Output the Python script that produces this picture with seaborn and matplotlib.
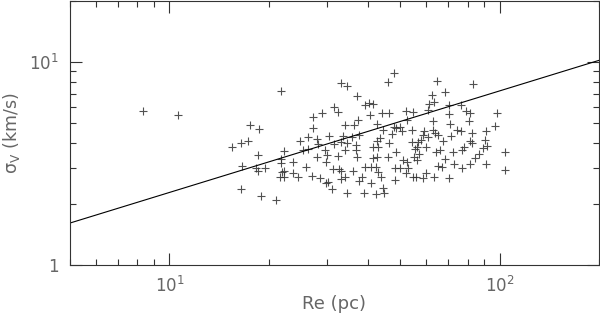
"""Re vs sigma_V scatter on log-log axes, with a power-law line."""

import numpy as np
import pandas as pd
import matplotlib
matplotlib.use("Agg")
import matplotlib.pyplot as plt
from matplotlib.ticker import LogLocator, FuncFormatter, NullFormatter
import seaborn as sns

# Re (pc)
re_pc = [
    8.3, 10.6, 21.8, 33.0, 34.4, 17.6, 18.7, 15.5, 16.5, 17.3,
    18.6, 16.6, 18.3, 19.5, 16.5, 19.0, 21.1, 22.3, 21.8, 23.6,
    21.8, 21.9, 22.3, 23.6, 21.7, 22.3, 24.6, 26.0, 27.1, 28.6,
    29.9, 30.2, 31.0, 27.9, 29.9, 30.1, 31.2, 32.5, 32.7, 33.2,
    33.0, 34.1, 34.4, 24.9, 26.2, 27.9, 28.1, 30.5, 25.4, 26.2,
    29.5, 27.3, 27.3, 29.0, 31.6, 32.4, 34.1, 33.5, 34.6, 34.0,
    48.0, 45.9, 64.7, 83.0, 37.0, 39.0, 40.1, 41.5, 62.4, 68.3,
    61.1, 63.5, 60.7, 70.5, 76.6, 79.3, 81.1, 98.4, 96.6, 80.6,
    70.5, 62.9, 71.0, 74.3, 76.6, 82.6, 91.0, 90.5, 91.4, 89.3,
    103.5, 103.5, 91.0, 81.1, 82.6, 77.9, 76.9, 72.5, 67.6, 71.3,
    65.0, 63.9, 63.0, 59.1, 58.5, 57.8, 60.7, 59.9, 64.3, 65.8,
    68.1, 65.0, 66.8, 73.0, 76.9, 81.1, 84.5, 86.6, 63.5, 70.2,
    59.9, 58.5, 55.8, 54.7, 52.1, 52.9, 52.4, 50.9, 55.0, 56.3,
    57.1, 55.3, 56.3, 54.4, 56.7, 54.4, 50.6, 49.8, 48.6, 47.2,
    47.8, 52.4, 51.9, 54.7, 44.0, 46.1, 40.4, 42.4, 46.4, 48.4,
    45.9, 48.1, 49.8, 48.1, 43.7, 42.9, 42.2, 40.8, 39.0, 38.4,
    37.6, 40.8, 38.8, 42.2, 44.3, 44.8, 35.9, 36.7, 36.9, 36.7,
    37.4, 35.8, 36.3, 37.2, 42.4, 43.3, 41.5, 42.9, 42.4, 41.5,
    44.3, 33.1, 31.6, 18.6,
]

# sigma_V (km/s), same order
sigma_v = [
    5.75, 5.5, 7.2, 7.9, 7.6, 4.9, 4.7, 3.8, 4.0, 4.1,
    3.5, 3.07, 3.0, 3.0, 2.37, 2.2, 2.1, 3.65, 3.33, 3.2,
    3.18, 2.87, 2.9, 2.84, 2.7, 2.7, 2.7, 3.04, 2.74, 2.68,
    2.53, 2.56, 2.37, 3.4, 3.22, 3.48, 2.97, 3.44, 2.97, 2.9,
    2.65, 2.71, 2.26, 4.08, 4.27, 4.17, 3.95, 4.32, 3.69, 3.73,
    3.69, 4.73, 5.36, 5.6, 6.0, 5.67, 4.89, 4.32, 4.0, 3.69,
    8.8, 7.95, 8.05, 7.8, 6.8, 6.15, 6.3, 6.25, 6.9, 7.1,
    6.25, 6.35, 5.8, 6.15, 6.15, 5.75, 5.6, 5.6, 4.85, 5.1,
    5.55, 5.1, 4.95, 4.65, 4.57, 4.47, 4.55, 4.13, 3.85, 3.77,
    3.6, 2.94, 3.14, 4.1, 4.0, 3.8, 3.69, 3.6, 4.08, 4.32,
    4.37, 4.47, 4.62, 4.57, 4.37, 4.13, 4.27, 3.81, 3.6, 3.69,
    3.33, 3.07, 3.04, 3.14, 3.0, 3.14, 3.37, 3.52, 2.71, 2.68,
    2.84, 2.68, 2.71, 2.72, 2.84, 3.0, 3.22, 3.29, 3.4, 3.29,
    3.52, 3.73, 3.81, 4.04, 4.04, 4.62, 4.57, 4.78, 4.73, 4.42,
    4.78, 5.18, 5.73, 5.67, 5.6, 5.6, 5.48, 4.95, 4.0, 3.61,
    3.4, 3.0, 3.01, 2.62, 2.71, 2.87, 3.04, 3.04, 3.04, 2.71,
    2.59, 2.53, 2.26, 2.24, 2.4, 2.26, 2.9, 3.69, 3.4, 3.9,
    4.37, 4.27, 4.89, 5.18, 4.08, 4.22, 3.81, 3.8, 3.4, 3.35,
    4.62, 4.04, 3.95, 2.92,
]

# power-law line, end points read at the frame edges
fit_re = [5, 200]
fit_sigma = [1.61, 10.2]

df = pd.DataFrame({"Re": re_pc, "sigma": sigma_v})
fit = pd.DataFrame({"Re": fit_re, "sigma": fit_sigma})

sns.set_style("ticks")
plt.rcParams["font.family"] = ["DejaVu Sans"]
plt.rcParams["mathtext.default"] = "regular"

text_col = "#666666"
frame_col = "#333333"

fig = plt.figure(figsize=(6.0, 3.18), dpi=100)
ax = fig.add_axes([70 / 600, 53 / 318, 529 / 600, 264 / 318])

sns.scatterplot(data=df, x="Re", y="sigma", marker="+", s=40,
                color="#333333", linewidth=0.8, alpha=0.85, ax=ax)
sns.lineplot(data=fit, x="Re", y="sigma", color="black", linewidth=0.8, ax=ax)

ax.set_xscale("log")
ax.set_yscale("log")
ax.set_xlim(5, 200)
ax.set_ylim(1, 20)


def dec_fmt(v, pos):
    n = int(round(np.log10(v)))
    return "1" if n == 0 else r"$10^{%d}$" % n


for axis in (ax.xaxis, ax.yaxis):
    axis.set_major_locator(LogLocator(base=10))
    axis.set_minor_locator(LogLocator(base=10, subs=np.arange(2, 10)))
    axis.set_major_formatter(FuncFormatter(dec_fmt))
    axis.set_minor_formatter(NullFormatter())

ax.tick_params(which="both", direction="in", top=True, right=True,
               color=frame_col, labelcolor=text_col, labelsize=12, width=0.8)
ax.tick_params(which="major", length=8.5, pad=8)
ax.tick_params(which="minor", length=4.5)
for sp in ax.spines.values():
    sp.set_color(frame_col)
    sp.set_linewidth(0.8)

ax.set_xlabel("Re (pc)", color=text_col, fontsize=13, labelpad=-1)
ax.set_ylabel(r"$\sigma_{V}$ (km/s)", color=text_col, fontsize=12.5, labelpad=5)

fig.savefig("out.png", dpi=100)
